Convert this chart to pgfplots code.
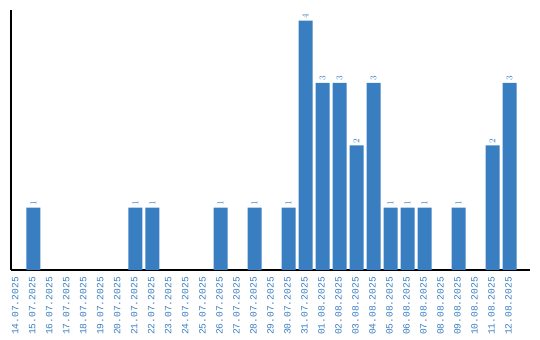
\documentclass[border=0pt]{standalone}
\usepackage{fontspec}
\usepackage{pgfplots}
\pgfplotsset{compat=1.18}
\newfontfamily\monofont{Liberation Mono}
\definecolor{barblue}{HTML}{3A7EC2}
\begin{document}
\begin{tikzpicture}
\useasboundingbox (0,0) rectangle (540bp,340bp);
\begin{axis}[
  at={(11bp,70bp)}, anchor=south west,
  scale only axis, width=519bp, height=260bp,
  xmin=-0.32, xmax=30.2, ymin=0, ymax=4.17,
  axis x line=bottom, axis y line=left,
  axis line style={-, line width=1.3bp, black},
  ytick=\empty,
  xtick={0,...,29},
  xticklabels={14.07.2025,15.07.2025,16.07.2025,17.07.2025,18.07.2025,19.07.2025,20.07.2025,21.07.2025,22.07.2025,23.07.2025,24.07.2025,25.07.2025,26.07.2025,27.07.2025,28.07.2025,29.07.2025,30.07.2025,31.07.2025,01.08.2025,02.08.2025,03.08.2025,04.08.2025,05.08.2025,06.08.2025,07.08.2025,08.08.2025,09.08.2025,10.08.2025,11.08.2025,12.08.2025},
  major tick length=0pt,
  typeset ticklabels with strut=false,
  xticklabel style={rotate=90, anchor=east, inner sep=0pt, text=barblue, font=\monofont\fontsize{9.6bp}{10bp}\selectfont},
  xticklabel shift=7bp,
  ybar, bar width=14bp,
  nodes near coords,
  every node near coord/.append style={rotate=90, anchor=west, inner sep=0pt, xshift=2bp, text=barblue, font=\monofont\fontsize{9bp}{9bp}\selectfont},
]
\addplot[fill=barblue, draw=none] coordinates {
(1,1) (7,1) (8,1) (12,1) (14,1) (16,1) (17,4) (18,3) (19,3) (20,2) (21,3) (22,1) (23,1) (24,1) (26,1) (28,2) (29,3)
};
\end{axis}
\end{tikzpicture}
\end{document}
